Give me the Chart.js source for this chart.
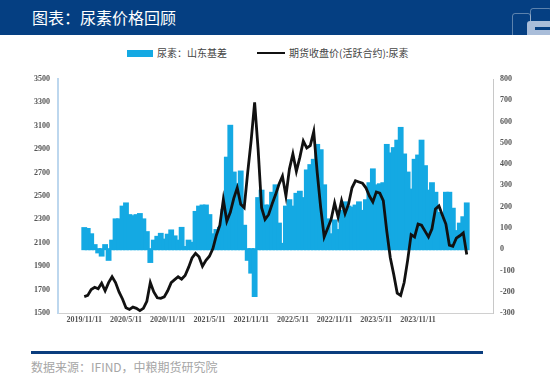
<!DOCTYPE html>
<html>
<head>
<meta charset="utf-8">
<script src="https://cdn.jsdelivr.net/npm/chart.js@4/dist/chart.umd.min.js"></script>
<style>
  body { margin: 0; width: 550px; height: 379px; background: #fff; position: relative; overflow: hidden; font-family: "Noto Sans CJK SC", sans-serif; }
  #head { position: absolute; left: 0; top: 0; width: 550px; height: 35px; background: #053f82; }
  #title { position: absolute; left: 32px; top: 6px; color: #fff; font-size: 16px; line-height: 22px; }
  .box { position: absolute; border: 1px solid rgba(255,255,255,0.35); border-radius: 3px; }
  #legend { position: absolute; top: 46px; left: 0; height: 14px; font-size: 10px; color: #444; }
  #legend span { position: absolute; white-space: nowrap; line-height: 14px; }
  #wrap { position: absolute; left: 0; top: 60px; width: 530px; height: 273px; }
  #rule { position: absolute; left: 31px; top: 351px; width: 452px; height: 3px; background: #0a3d7e; }
  #src { position: absolute; left: 31px; top: 359px; font-size: 12px; color: #a6a6a6; line-height: 16px; }
</style>
</head>
<body>
<div id="head">
  <div id="title">图表：尿素价格回顾</div>
  <div class="box" style="left:512px;top:13px;width:17px;height:24px;"></div>
  <div class="box" style="left:530px;top:8px;width:20px;height:20px;"></div>
  <div style="position:absolute;left:527px;top:21px;width:23px;height:14px;background:#a9bdd9;border-radius:3px 0 0 0;"></div>
  <div style="position:absolute;left:535px;top:27px;width:15px;height:3px;background:#053f82;"></div>
</div>
<div id="legend">
  <span style="left:127px;top:4px;width:26px;height:7px;background:#14a9e3;"></span>
  <span style="left:157px;top:0;">尿素：山东基差</span>
  <span style="left:257px;top:6px;width:28px;height:2px;background:#111;"></span>
  <span style="left:289px;top:0;">期货收盘价(活跃合约):尿素</span>
</div>
<div id="wrap"><canvas id="chart"></canvas></div>
<div id="rule"></div>
<div id="src">数据来源：IFIND，中粮期货研究院</div>

<script>
// half-month steps starting 2019/11/11
const tickLabels = ['2019/11/11', '2020/5/11', '2020/11/11', '2021/5/11', '2021/11/11', '2022/5/11', '2022/11/11', '2023/5/11', '2023/11/11']
const leftTicks = [1500, 1700, 1900, 2100, 2300, 2500, 2700, 2900, 3100, 3300, 3500]
const rightTicks = [-300, -200, -100, 0, 100, 200, 300, 400, 500, 600, 700, 800]

// 期货收盘价(活跃合约):尿素 (left axis)
const futures = [
  1640, 1650, 1700, 1720, 1707, 1755, 1690, 1760, 1810, 1760,
  1680, 1620, 1545, 1530, 1550, 1540, 1520, 1540, 1600, 1760,
  1680, 1630, 1625, 1638, 1690, 1760, 1785, 1810, 1790, 1820,
  1890, 1970, 2010, 1980, 1900, 1950, 1985, 2050, 2165, 2250,
  2470, 2285, 2360, 2480, 2570, 2430, 2400, 2700, 2975, 3300,
  2900, 2400, 2300, 2340, 2430, 2510, 2600, 2670, 2500, 2730,
  2860, 2711, 2830, 2970, 2910, 2930, 3050, 2700, 2400, 2150,
  2225, 2300, 2440, 2320, 2460, 2350, 2430, 2570, 2630, 2620,
  2610, 2570, 2500, 2450, 2535, 2525, 2460, 2200, 1975, 1830,
  1670, 1650, 1760, 1950, 2170, 2150, 2260, 2250, 2200, 2150,
  2220, 2390, 2415, 2335, 2260, 2080, 2070, 2140, 2160, 2185,
  2000
]

// 尿素：山东基差 (right axis)
const basis = [
  99, 95, 70, 19, -15, -30, 19, -50, 40, 140,
  140, 200, 215, 160, 155, 160, 165, 140, 80, -60,
  40, 58, 72, 45, 68, 88, 60, 40, 100, 10,
  40, 30, 175, 200, 205, 205, 160, 70, 90, 100,
  185, 430, 580, 360, 305, 365, 110, -50, -110, -220,
  240, 275, 205, 205, 265, 300, 120, 25, 200, 230,
  200, 260, 270, 240, 370, 395, 420, 490, 465, 300,
  140, 70, 135, 90, 180, 220, 200, 195, 205, 220,
  180, 230, 310, 375, 300, 305, 310, 490, 450, 475,
  510, 570, 445, 360, 280, 420, 440, 510, 390, 275,
  310, 265, 170, 145, 265, 265, 190, 85, 120, 150,
  215
]

const tickFont = { family: 'Liberation Serif', size: 8, weight: 'bold' }

const ctx = document.getElementById('chart')
const chart = new Chart(ctx, {
  data: {
    datasets: [{
      type: 'line',
      label: '期货收盘价(活跃合约):尿素',
      data: futures.map((v, i) => ({ x: i, y: v })),
      yAxisID: 'yL',
      borderColor: '#111',
      borderWidth: 2.8,
      pointRadius: 0,
      tension: 0,
      order: 0
    }, {
      type: 'bar',
      label: '尿素：山东基差',
      data: basis.map((v, i) => ({ x: i, y: v })),
      yAxisID: 'yR',
      backgroundColor: '#14a9e3',
      borderWidth: 0,
      grouped: false,
      barPercentage: 1.1,
      categoryPercentage: 1,
      inflateAmount: 1,
      order: 1
    }]
  },
  options: {
    responsive: true,
    maintainAspectRatio: false,
    animation: false,
    layout: { padding: { top: 19, bottom: 0, left: 0, right: 0 } },
    plugins: { legend: { display: false }, tooltip: { enabled: false } },
    scales: {
      x: {
        type: 'linear',
        min: -0.6,
        max: 110.6,
        afterBuildTicks: axis => { axis.ticks = tickLabels.map((t, k) => ({ value: k * 12 })) },
        afterFit: axis => { axis.height = 20 },
        ticks: {
          callback: v => tickLabels[v / 12],
          font: tickFont,
          color: '#555',
          maxRotation: 0,
          autoSkip: false,
          padding: 2
        },
        grid: { display: false, drawTicks: false },
        border: { color: '#d0d0d0' }
      },
      yL: {
        position: 'left',
        min: 1500,
        max: 3500,
        afterBuildTicks: axis => { axis.ticks = leftTicks.map(v => ({ value: v })) },
        afterFit: axis => { axis.width = 58 },
        ticks: { font: tickFont, color: '#555', padding: 8, callback: v => String(v) },
        grid: { display: false, drawTicks: false },
        border: { color: '#bdd7ee', width: 2 }
      },
      yR: {
        position: 'right',
        min: -300,
        max: 800,
        afterBuildTicks: axis => { axis.ticks = rightTicks.map(v => ({ value: v })) },
        afterFit: axis => { axis.width = 37 },
        ticks: { font: tickFont, color: '#555', padding: 4, callback: v => String(v) },
        grid: { display: false, drawOnChartArea: false, tickLength: 3, color: '#bbb' },
        border: { color: '#c8c8c8' }
      }
    }
  }
})
</script>
</body>
</html>
